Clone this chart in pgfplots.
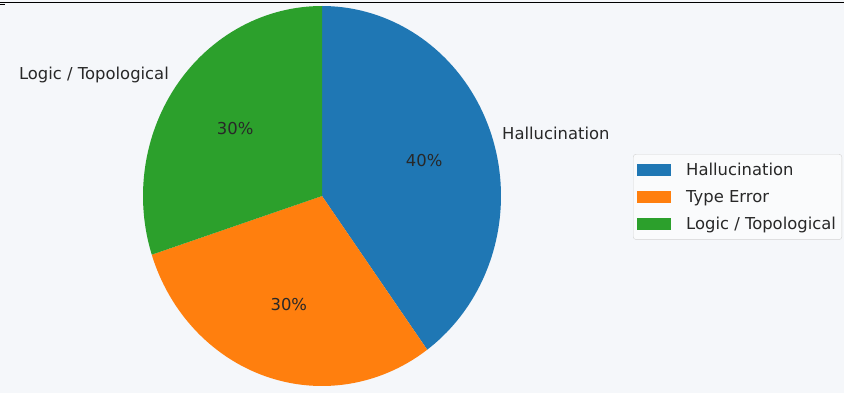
\documentclass[border=0pt]{standalone}
\usepackage{pgfplots}
\pgfplotsset{compat=1.18}
\usepackage{pgfplotstable}
\usepackage{fontspec}
\setmainfont{DejaVu Sans}
\definecolor{tabblue}{RGB}{31,119,180}
\definecolor{taborange}{RGB}{255,127,14}
\definecolor{tabgreen}{RGB}{44,160,44}
\definecolor{bgc}{RGB}{245,247,250}
\definecolor{txt}{RGB}{40,40,40}
\definecolor{legedge}{RGB}{210,210,210}
\definecolor{legfill}{RGB}{250,251,252}

\pgfplotstableread{
label value
Hallucination 40
TypeError 30
Logic 30
}\piedata

\pgfplotstablegetelem{0}{value}\of\piedata \let\va\pgfplotsretval
\pgfplotstablegetelem{1}{value}\of\piedata \let\vb\pgfplotsretval
\pgfplotstablegetelem{2}{value}\of\piedata \let\vc\pgfplotsretval
\pgfmathsetmacro\aA{90}
\pgfmathsetmacro\aB{\aA-3.6*\va}
\pgfmathsetmacro\aC{\aB-3.6*\vb}
\pgfmathsetmacro\aD{\aC-3.6*\vc}
\pgfmathsetmacro\mA{(\aA+\aB)/2}
\pgfmathsetmacro\mB{(\aB+\aC)/2}
\pgfmathsetmacro\mC{(\aC+\aD)/2}
\def\cx{322}
\def\cy{197}
\def\rx{179}
\def\ry{190}
\newcommand\lblfont{\fontsize{16.4}{19}\selectfont}

\begin{document}
\begin{tikzpicture}
\fill[bgc] (0,0) rectangle (844pt,393pt);
\begin{axis}[
  at={(0,0)}, anchor=south west,
  scale only axis, width=844pt, height=393pt,
  xmin=0, xmax=844, ymin=0, ymax=393,
  hide axis,
  legend style={at={(0.75,0.6081)}, anchor=north west,
    draw=legedge, fill=legfill, rounded corners=3pt,
    font=\lblfont, text=txt,
    row sep=9pt, inner xsep=4pt, inner ysep=7pt},
  legend cell align=left,
  legend image code/.code={\fill[#1, draw=none, sharp corners] (0pt,-6pt) rectangle (34pt,6pt);
     \path[draw=none, fill=none] (34pt,0pt) -- (47pt,0pt);},
]
\addplot[fill=tabblue, draw=none, domain=\aB:\aA, samples=90, variable=\t]
  ({\cx+\rx*cos(\t)},{\cy+\ry*sin(\t)}) -- (axis cs:\cx,\cy) -- cycle;
\addlegendentry{Hallucination}
\addplot[fill=taborange, draw=none, domain=\aC:\aB, samples=90, variable=\t]
  ({\cx+\rx*cos(\t)},{\cy+\ry*sin(\t)}) -- (axis cs:\cx,\cy) -- cycle;
\addlegendentry{Type Error}
\addplot[fill=tabgreen, draw=none, domain=\aD:\aC, samples=90, variable=\t]
  ({\cx+\rx*cos(\t)},{\cy+\ry*sin(\t)}) -- (axis cs:\cx,\cy) -- cycle;
\addlegendentry{Logic / Topological}

\node[text=txt, font=\lblfont] at (axis cs:{\cx+0.6*\rx*cos(\mA)},{\cy+0.6*\ry*sin(\mA)}) {40\%};
\node[text=txt, font=\lblfont] at (axis cs:{\cx+0.6*\rx*cos(\mB)},{\cy+0.6*\ry*sin(\mB)}) {30\%};
\node[text=txt, font=\lblfont] at (axis cs:{\cx+0.6*\rx*cos(\mC)},{\cy+0.6*\ry*sin(\mC)}) {30\%};
\node[text=txt, font=\lblfont, anchor=west, inner sep=0pt] at (axis cs:502,260) {Hallucination};
\node[text=txt, font=\lblfont, anchor=east, inner sep=0pt] at (axis cs:169,318) {Logic / Topological};
\end{axis}
\draw[black, line width=1.6pt] (0,390.3pt) -- (844pt,390.3pt);
\draw[black, line width=1.6pt] (0,388.5pt) -- (5pt,388.5pt);
\pgfresetboundingbox
\path (0,0) rectangle (844pt,393pt);
\end{tikzpicture}
\end{document}
